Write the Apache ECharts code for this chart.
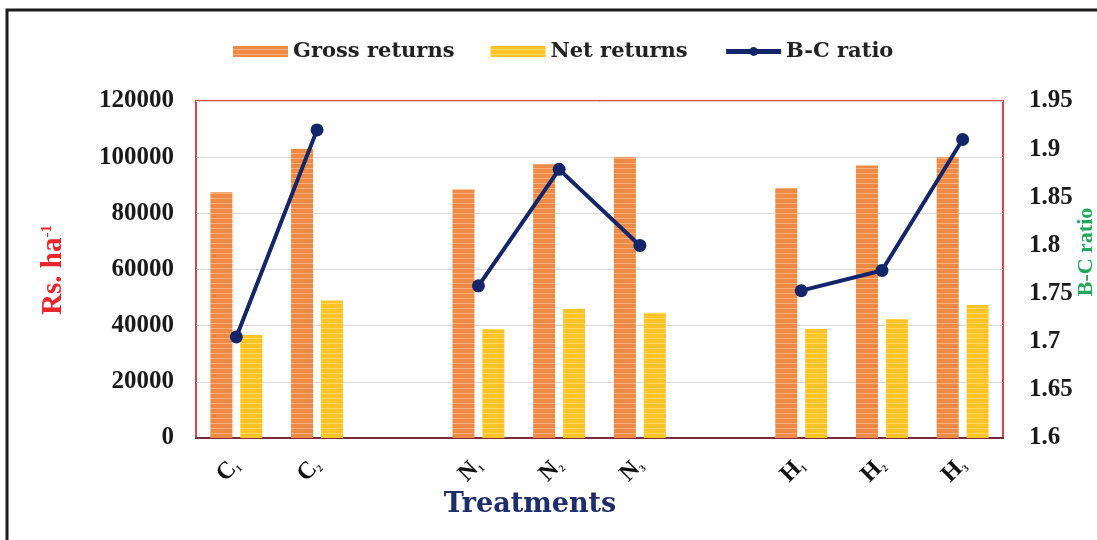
<!DOCTYPE html>
<html>
<head>
<meta charset="utf-8">
<script src="https://cdn.jsdelivr.net/npm/echarts@6/dist/echarts.min.js"></script>
<style>
  html, body { margin: 0; padding: 0; background: #fff; }
  #chart { width: 1097px; height: 540px; }
</style>
</head>
<body>
<div id="chart"></div>
<script>
// Treatments (blank entries separate the C, N and H groups)
const categories = ['C1', 'C2', '', 'N1', 'N2', 'N3', '', 'H1', 'H2', 'H3'];
// Rs. ha-1
const grossReturns = [87500, 103000, null, 88500, 97500, 100000, null, 89000, 97000, 100000];
const netReturns   = [36700, 49000, null, 38700, 46000, 44600, null, 38800, 42300, 47400];
// Benefit-cost ratio
const bcRatio      = [1.705, 1.92, null, 1.758, 1.879, 1.80, null, 1.753, 1.774, 1.91];
// Axis ticks
const leftTicks  = [0, 20000, 40000, 60000, 80000, 100000, 120000];
const rightTicks = [1.6, 1.65, 1.7, 1.75, 1.8, 1.85, 1.9, 1.95];

// Horizontal-stripe fill for the bars
function stripes(base, light) {
  const c = document.createElement('canvas');
  c.width = 4; c.height = 5;
  const g = c.getContext('2d');
  g.fillStyle = base; g.fillRect(0, 0, 4, 5);
  g.fillStyle = light; g.fillRect(0, 3, 4, 1);
  return { image: c, repeat: 'repeat' };
}

const serif = 'Liberation Serif';
const slab = 'DejaVu Serif';

const chart = echarts.init(document.getElementById('chart'));
chart.setOption({
  animation: false,
  backgroundColor: '#fff',
  legend: {
    top: 36,
    left: 228,
    itemWidth: 55,
    itemHeight: 11,
    itemGap: 36,
    textStyle: { fontFamily: slab, fontWeight: 'bold', fontSize: 21, color: '#222' },
    data: [
      { name: 'Gross returns', icon: 'rect' },
      { name: 'Net returns', icon: 'rect' },
      { name: 'B-C ratio', lineStyle: { width: 5 } }
    ]
  },
  grid: {
    left: 196, top: 101, right: 94, bottom: 102,
    show: true, borderColor: '#E3414A', borderWidth: 2, backgroundColor: 'transparent'
  },
  xAxis: {
    type: 'category',
    data: categories,
    axisLine: { show: true, lineStyle: { color: '#7a2b3b', width: 2 } },
    axisTick: { show: false },
    axisLabel: {
      rotate: 45,
      margin: 24,
      interval: 0,
      formatter: v => v ? '{m|' + v[0] + '}{s|' + v.slice(1) + '}' : '',
      rich: {
        m: { fontFamily: serif, fontWeight: 'bold', fontSize: 24, color: '#111' },
        s: { fontFamily: serif, fontWeight: 'bold', fontSize: 10, color: '#111', verticalAlign: 'bottom', padding: [6, 0, 0, 0] }
      }
    }
  },
  yAxis: [
    {
      type: 'value',
      min: leftTicks[0], max: leftTicks[leftTicks.length - 1], interval: 20000,
      axisLine: { show: false }, axisTick: { show: false },
      splitLine: { show: true, lineStyle: { color: '#DADADA', width: 1 } },
      axisLabel: {
        margin: 22, fontFamily: serif, fontWeight: 'bold', fontSize: 25, color: '#1a1a1a',
        formatter: v => String(v)
      }
    },
    {
      type: 'value',
      min: rightTicks[0], max: rightTicks[rightTicks.length - 1], interval: 0.05,
      axisLine: { show: false }, axisTick: { show: false },
      splitLine: { show: false },
      axisLabel: {
        margin: 26, fontFamily: serif, fontWeight: 'bold', fontSize: 25, color: '#1a1a1a',
        formatter: v => String(Number(v.toFixed(2)))
      }
    }
  ],
  graphic: [
    { type: 'rect', shape: { x: 7, y: 10, width: 1300, height: 700 }, style: { fill: 'none', stroke: '#1c1c1c', lineWidth: 3 }, silent: true },
    {
      type: 'text', x: 54, y: 270, rotation: Math.PI / 2,
      style: {
        text: '{a|Rs. ha}{b|-1}', align: 'center', verticalAlign: 'middle',
        rich: {
          a: { fontFamily: serif, fontWeight: 'bold', fontSize: 29, fill: '#E8262B' },
          b: { fontFamily: serif, fontWeight: 'bold', fontSize: 15, fill: '#E8262B', verticalAlign: 'top', padding: [0, 0, 12, 0] }
        }
      }
    },
    {
      type: 'text', x: 1086, y: 252, rotation: Math.PI / 2,
      style: { text: 'B-C ratio', align: 'center', verticalAlign: 'middle', fontFamily: serif, fontWeight: 'bold', fontSize: 22, fill: '#1FA85A' }
    },
    {
      type: 'text', x: 530, y: 505,
      style: { text: 'Treatments', align: 'center', verticalAlign: 'middle', fontFamily: slab, fontWeight: 'bold', fontSize: 27, fill: '#1D2D6B' }
    }
  ],
  series: [
    {
      name: 'Gross returns', type: 'bar', yAxisIndex: 0,
      data: grossReturns, barWidth: 22, barGap: '36%',
      itemStyle: { color: stripes('#EF8A45', '#F6B07E') }
    },
    {
      name: 'Net returns', type: 'bar', yAxisIndex: 0,
      data: netReturns, barWidth: 22,
      itemStyle: { color: stripes('#FEC425', '#FFD863') }
    },
    {
      name: 'B-C ratio', type: 'line', yAxisIndex: 1,
      data: bcRatio, connectNulls: false,
      symbol: 'circle', symbolSize: 13,
      lineStyle: { color: '#14266A', width: 4 },
      itemStyle: { color: '#14266A' },
      z: 5
    }
  ]
});
</script>
</body>
</html>
